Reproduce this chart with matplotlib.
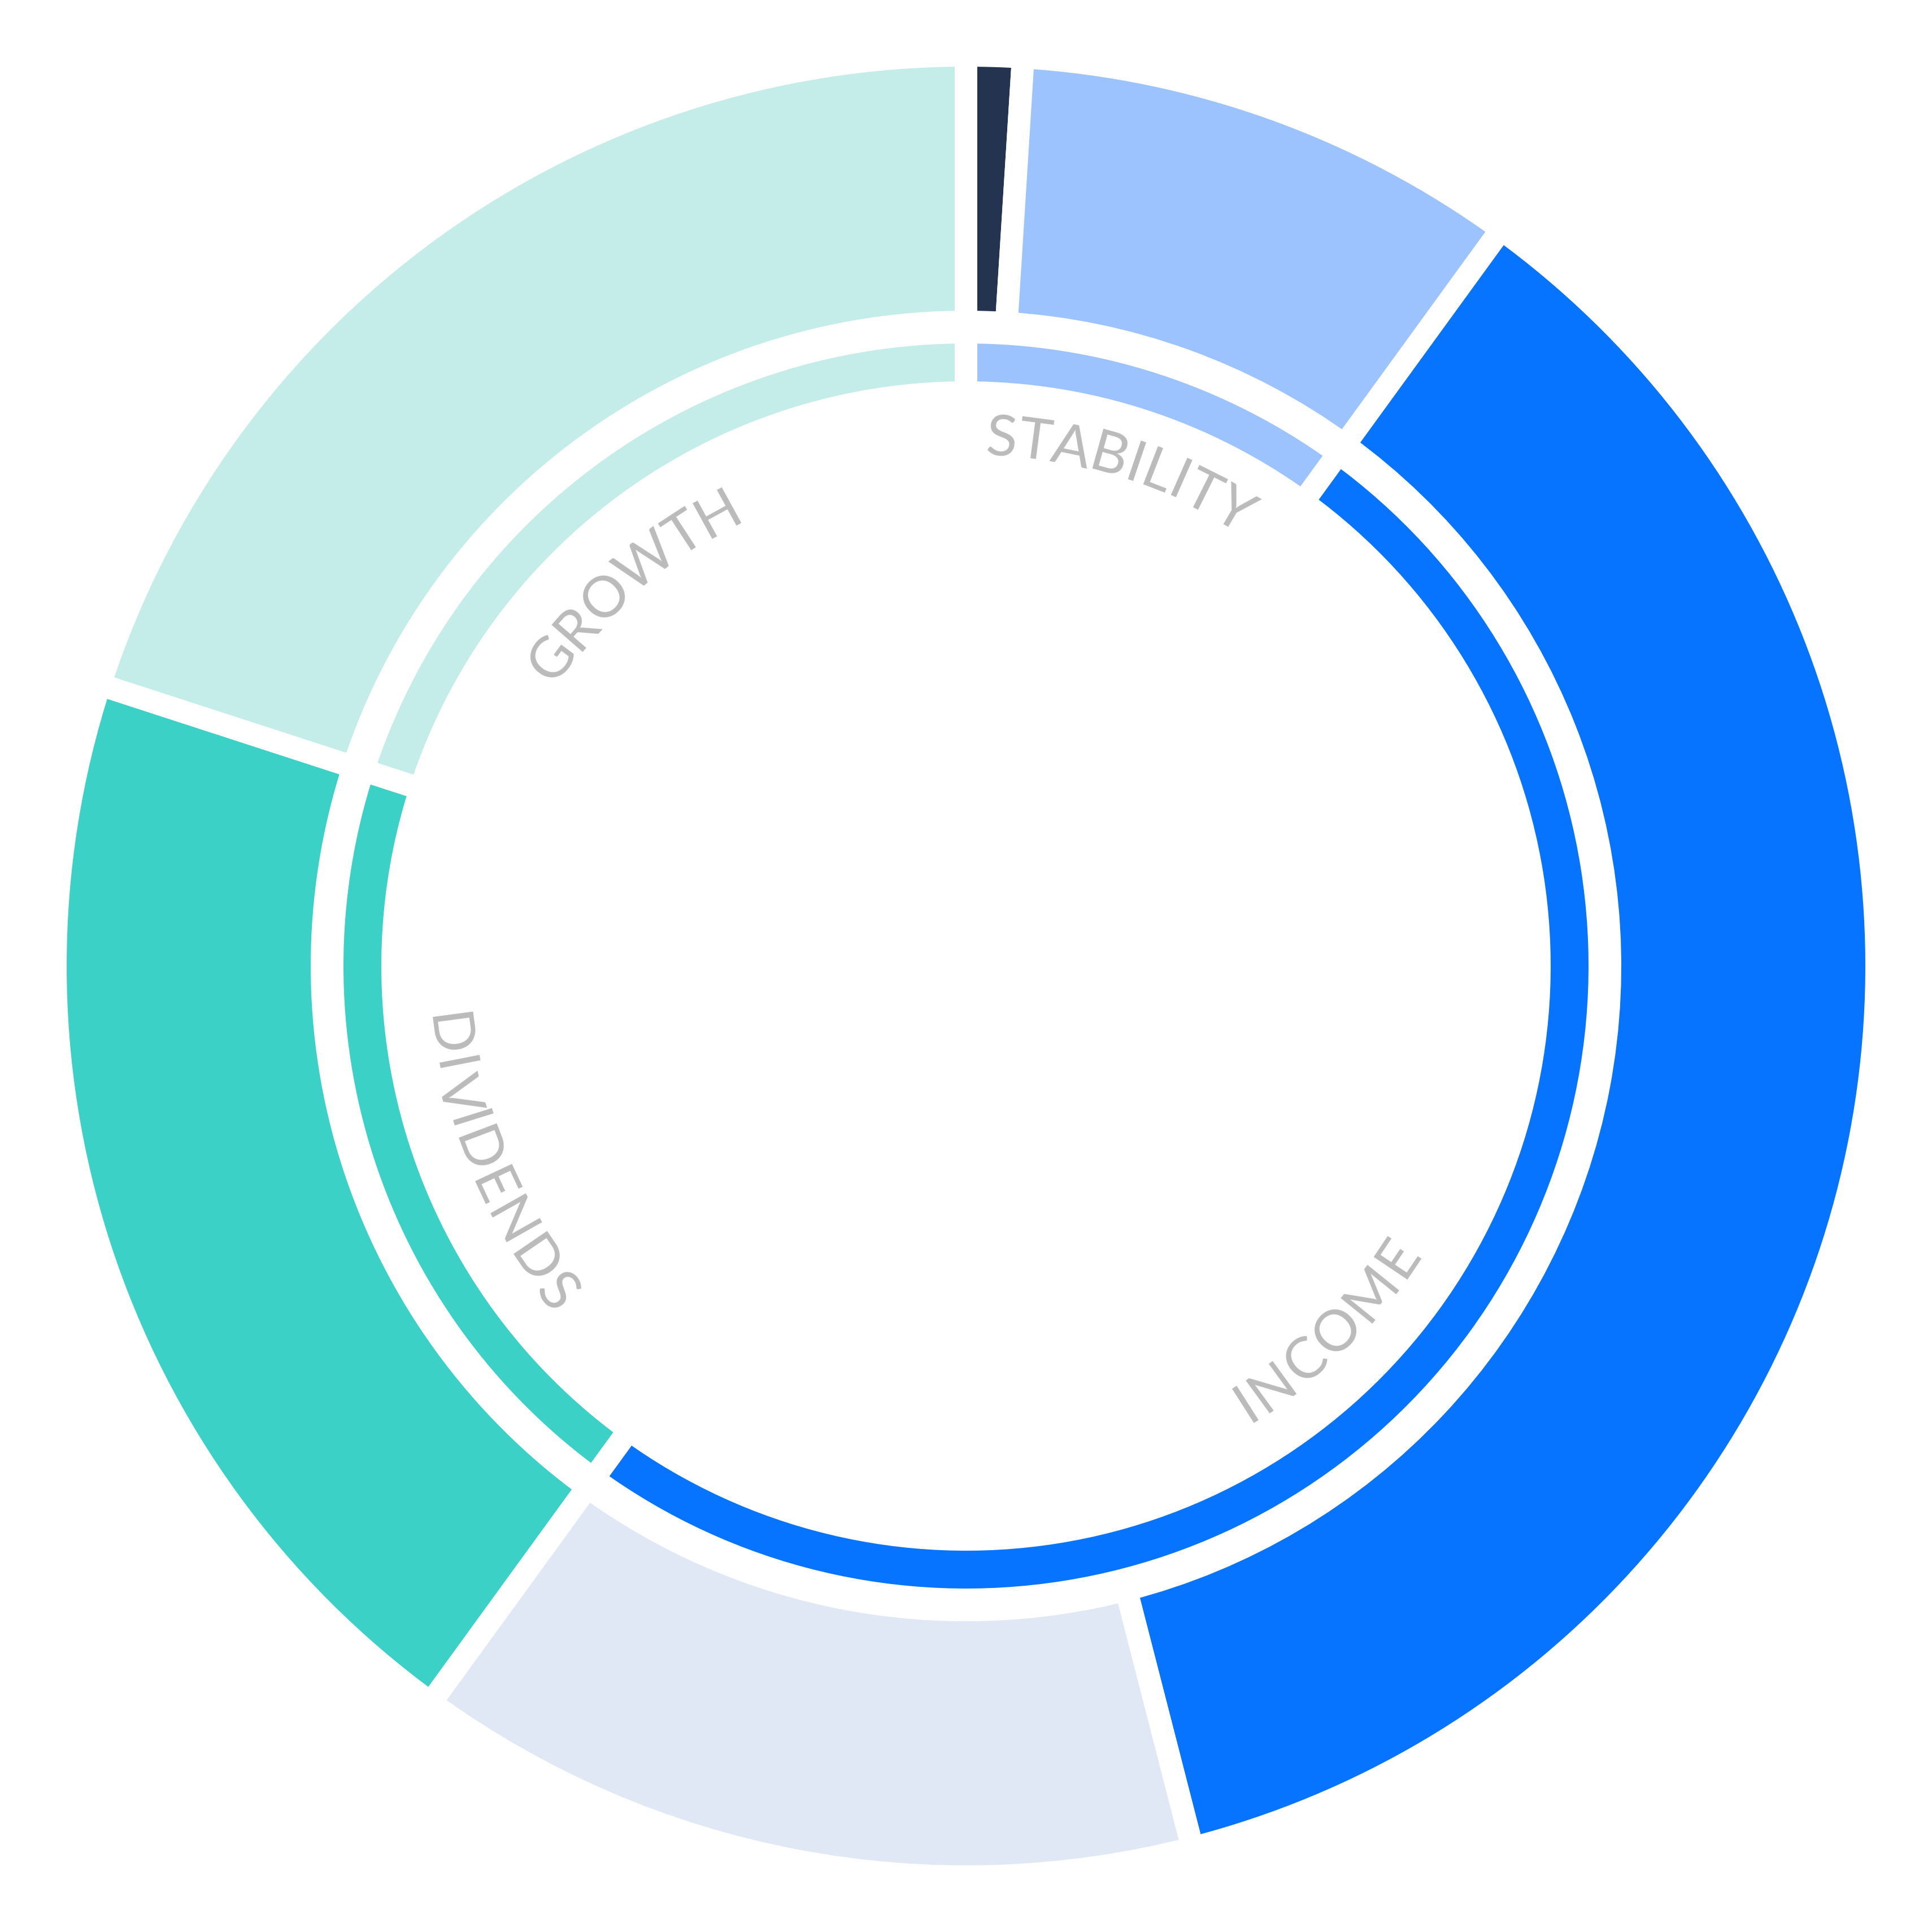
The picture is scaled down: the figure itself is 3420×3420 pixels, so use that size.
# Double donut: buckets (inner ring) and sub-allocations (outer ring)
import numpy as np
import matplotlib
matplotlib.use('Agg')
import matplotlib.pyplot as plt
from matplotlib.font_manager import FontProperties

# outer ring, percent, clockwise from 12 o'clock
outer_values = [1, 9, 36, 14, 20, 20]
outer_colors = ['#243350', '#9cc3fd', '#0674ff', '#dfe8f4', '#3bd1c7', '#c4ece9']

# inner ring, the four buckets
inner_labels = ['STABILITY', 'INCOME', 'DIVIDENDS', 'GROWTH']
inner_values = [10, 50, 20, 20]
inner_colors = ['#9cc3fd', '#0674ff', '#3bd1c7', '#c4ece9']

# where the curved labels sit (degrees clockwise from top, radius)
label_angle = [17.3, 135.2, 247.2, 319.0]
label_radius = [0.592, 0.574, 0.578, 0.578]

W = 3420
DPI = 100
PX = 1592.0      # pixels per data unit (outer radius = 1)
gap = 40         # white gap between slices, px
lw = gap * 72 / DPI

fig = plt.figure(figsize=(W / DPI, W / DPI), dpi=DPI)
ax = fig.add_axes([0, 0, 1, 1])

r1_out, r1_in = 1592, 1160
r2_out, r2_in = 1102, 1035
ax.pie(outer_values, colors=outer_colors, startangle=90, counterclock=False,
       radius=(r1_out + gap / 2) / PX,
       wedgeprops=dict(width=(r1_out - r1_in + gap) / PX, edgecolor='white', linewidth=lw))
ax.pie(inner_values, colors=inner_colors, startangle=90, counterclock=False,
       radius=(r2_out + gap / 2) / PX,
       wedgeprops=dict(width=(r2_out - r2_in + gap) / PX, edgecolor='white', linewidth=lw))

lim = W / 2 / PX
ax.set_xlim(-lim, lim)
ax.set_ylim(-lim, lim)
ax.set_aspect('equal')
ax.axis('off')

# curved text, one character at a time
fp = FontProperties(family='Lato', weight='normal', size=73)
renderer = fig.canvas.get_renderer()
tracking = 2  # px between letters


def curved_text(label, theta_c, r):
    widths = [renderer.get_text_width_height_descent(ch, fp, ismath=False)[0] for ch in label]
    total = sum(widths) + tracking * (len(label) - 1)
    flip = 90 < theta_c < 270
    s = -total / 2
    for ch, w in zip(label, widths):
        mid = s + w / 2
        d = np.degrees(mid / (r * PX))
        if flip:
            th = theta_c - d
            rot = 180 - th
        else:
            th = theta_c + d
            rot = -th
        x = r * np.sin(np.radians(th))
        y = r * np.cos(np.radians(th))
        ax.text(x, y, ch, fontproperties=fp, color='#bbbbbb', rotation=rot,
                rotation_mode='anchor', ha='center', va='center_baseline')
        s += w + tracking


for lab, a, r in zip(inner_labels, label_angle, label_radius):
    curved_text(lab, a, r)

plt.savefig('out.png', dpi=DPI, facecolor='white')
